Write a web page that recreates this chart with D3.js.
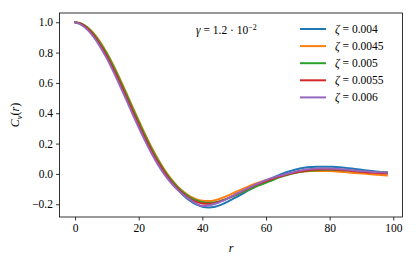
<!DOCTYPE html>
<html><head><meta charset="utf-8">
<script src="https://cdn.jsdelivr.net/npm/d3@7"></script>
<style>
html,body{margin:0;padding:0;background:#fff;}
svg{display:block;}
text{font-family:"Liberation Serif","DejaVu Serif",serif;fill:#000;}
</style></head><body>
<svg id="chart" width="416" height="262"></svg>
<script>
const rValues = [0,2,4,6,8,10,12,14,16,18,20,22,24,26,28,30,32,34,36,38,40,42,44,46,48,50,52,54,56,58,60,62,64,66,68,70,72,74,76,78,80,82,84,86,88,90,92,94,96,98];

const zeta004 = [1.000,0.986,0.955,0.908,0.847,0.775,0.693,0.604,0.511,0.417,0.324,0.235,0.152,0.077,0.011,-0.047,-0.097,-0.140,-0.175,-0.201,-0.216,-0.221,-0.216,-0.202,-0.182,-0.160,-0.138,-0.114,-0.091,-0.068,-0.047,-0.026,-0.008,0.008,0.021,0.032,0.040,0.045,0.047,0.048,0.047,0.046,0.043,0.038,0.033,0.028,0.022,0.017,0.013,0.009];
const zeta0045 = [1.000,0.991,0.965,0.923,0.866,0.797,0.718,0.631,0.539,0.445,0.352,0.262,0.177,0.100,0.031,-0.028,-0.077,-0.116,-0.146,-0.166,-0.177,-0.179,-0.173,-0.160,-0.143,-0.124,-0.105,-0.087,-0.070,-0.055,-0.041,-0.029,-0.018,-0.008,0.004,0.011,0.016,0.019,0.020,0.020,0.019,0.016,0.013,0.010,0.006,0.003,0.000,-0.004,-0.007,-0.010];
const zeta005 = [1.000,0.990,0.962,0.918,0.860,0.790,0.710,0.622,0.530,0.436,0.343,0.253,0.168,0.092,0.024,-0.034,-0.082,-0.121,-0.152,-0.173,-0.186,-0.190,-0.186,-0.176,-0.161,-0.145,-0.127,-0.109,-0.091,-0.074,-0.058,-0.042,-0.024,-0.011,0.001,0.011,0.018,0.022,0.025,0.027,0.027,0.026,0.024,0.022,0.019,0.016,0.014,0.012,0.011,0.010];
const zeta0055 = [1.000,0.987,0.955,0.908,0.847,0.775,0.693,0.604,0.511,0.417,0.324,0.235,0.152,0.078,0.012,-0.045,-0.093,-0.131,-0.162,-0.183,-0.195,-0.197,-0.191,-0.178,-0.161,-0.141,-0.120,-0.100,-0.081,-0.063,-0.047,-0.032,-0.019,-0.007,0.004,0.013,0.020,0.026,0.029,0.031,0.031,0.029,0.026,0.022,0.018,0.014,0.010,0.007,0.005,0.003];
const zeta006 = [1.000,0.982,0.948,0.898,0.834,0.760,0.676,0.586,0.493,0.398,0.306,0.218,0.136,0.063,-0.001,-0.055,-0.100,-0.137,-0.168,-0.195,-0.211,-0.207,-0.197,-0.181,-0.161,-0.140,-0.118,-0.097,-0.077,-0.058,-0.041,-0.026,-0.013,-0.002,0.008,0.020,0.027,0.032,0.035,0.036,0.036,0.034,0.031,0.027,0.023,0.019,0.016,0.013,0.011,0.009];

const seriesLabels = ["0.004","0.0045","0.005","0.0055","0.006"];
const seriesValues = [zeta004, zeta0045, zeta005, zeta0055, zeta006];
const seriesColors = ["#1f77b4","#ff7f0e","#2ca02c","#d62728","#9467bd"];
const xTicks = [0,20,40,60,80,100];
const yTicks = [-0.2,0.0,0.2,0.4,0.6,0.8,1.0];

const svg = d3.select("#chart");
const L = 59.5, R = 402.5, T = 13, B = 217;
const x = d3.scaleLinear().domain([-4.9, 102.9]).range([L, R]);
const y = d3.scaleLinear().domain([-0.284, 1.061]).range([B, T]);

const fs = 11.5;

// lines
const line = d3.line().x((d,i)=>x(rValues[i])).y(d=>y(d)).curve(d3.curveMonotoneX);
const plot = svg.append("g");
seriesValues.forEach((vals, k) => {
  plot.append("path").datum(vals)
    .attr("d", line)
    .attr("fill","none")
    .attr("stroke", seriesColors[k])
    .attr("stroke-width", 2)
    .attr("stroke-linejoin","round")
    .attr("stroke-linecap","square");
});

// axes
const xAxis = d3.axisBottom(x).tickValues(xTicks).tickSize(3.5).tickPadding(3).tickFormat(d3.format("d"));
const yAxis = d3.axisLeft(y).tickValues(yTicks).tickSize(3.5).tickPadding(3).tickFormat(d => d < 0 ? "\u2212" + d3.format(".1f")(-d) : d3.format(".1f")(d));
const gx = svg.append("g").attr("transform",`translate(0,${B})`).call(xAxis);
const gy = svg.append("g").attr("transform",`translate(${L},0)`).call(yAxis);
[gx, gy].forEach(g => {
  g.select(".domain").remove();
  g.selectAll(".tick line").attr("stroke","#000").attr("stroke-width",0.8);
  g.selectAll(".tick text").attr("font-family","Liberation Serif, serif").attr("font-size",fs).attr("fill","#000");
});

// frame
svg.append("rect").attr("x",L).attr("y",T).attr("width",R-L).attr("height",B-T)
  .attr("fill","none").attr("stroke","#000").attr("stroke-width",0.8);

// annotation gamma
const ann = svg.append("text").attr("x", 196).attr("y", 34).attr("font-size", fs);
ann.append("tspan").attr("font-style","italic").text("\u03b3");
ann.append("tspan").text(" = 1.2 \u00b7 10");
ann.append("tspan").attr("dy",-4.5).attr("font-size",8).text("\u22122");

// legend
const lg = svg.append("g");
seriesLabels.forEach((lab, k) => {
  const yy = 29 + k*17.1;
  lg.append("line").attr("x1",300).attr("x2",326).attr("y1",yy).attr("y2",yy)
    .attr("stroke",seriesColors[k]).attr("stroke-width",2);
  const t = lg.append("text").attr("x",335).attr("y",yy+4).attr("font-size",fs);
  t.append("tspan").attr("font-style","italic").text("\u03b6");
  t.append("tspan").text(" = " + lab);
});

// axis labels
svg.append("text").attr("x", (L+R)/2).attr("y", 252).attr("text-anchor","middle")
  .attr("font-size", fs+0.5).attr("font-style","italic").text("r");
const yl = svg.append("text").attr("transform",`translate(19,${(T+B)/2}) rotate(-90)`)
  .attr("text-anchor","middle").attr("font-size", fs+0.5);
yl.append("tspan").attr("font-style","italic").text("C");
yl.append("tspan").attr("font-style","italic").attr("font-size",8.5).attr("dy",2.5).text("v");
yl.append("tspan").attr("dy",-2.5).text("(");
yl.append("tspan").attr("font-style","italic").text("r");
yl.append("tspan").text(")");
</script>
</body></html>
